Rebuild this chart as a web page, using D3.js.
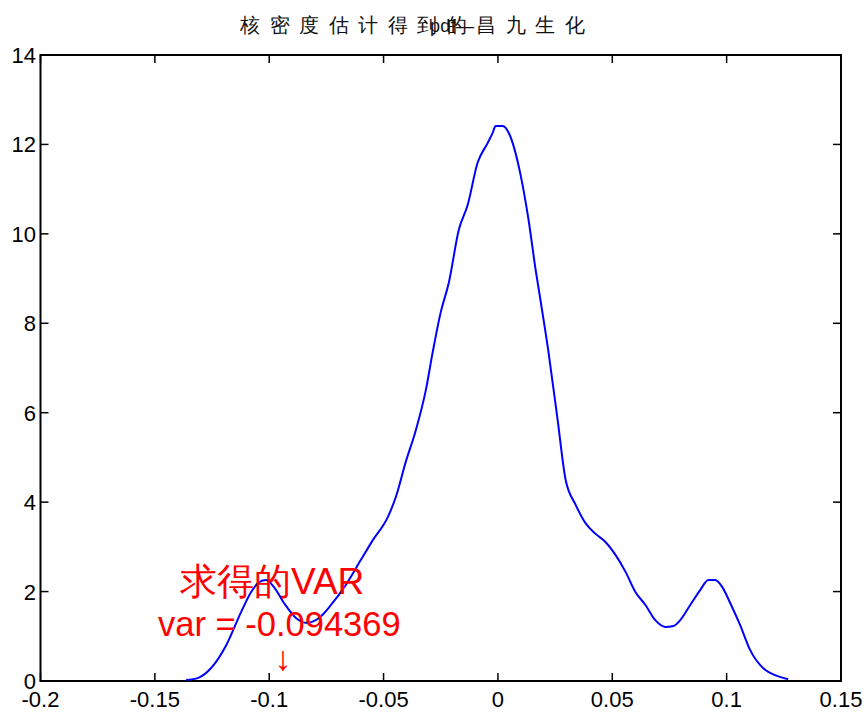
<!DOCTYPE html>
<html>
<head>
<meta charset="utf-8">
<script src="https://cdn.jsdelivr.net/npm/d3@7"></script>
<style>
  body { margin: 0; background: #fff; }
  text { font-family: "Liberation Sans", Arial, sans-serif; }
</style>
</head>
<body>
<svg id="chart" width="866" height="713"></svg>
<script>
// kernel density estimate
var xs = [-0.1363, -0.131, -0.1254, -0.1188, -0.1123, -0.1079, -0.1044, -0.1014, -0.0979, -0.0935,
          -0.0883, -0.0839, -0.0782, -0.073, -0.0665, -0.0599, -0.0547, -0.0481, -0.0446, -0.0403,
          -0.0359, -0.0315, -0.0285, -0.025, -0.0215, -0.0171, -0.0132, -0.0089, -0.0045, -0.0023,
          -0.001, 0.0021, 0.0047, 0.0099, 0.0134, 0.0165, 0.0186, 0.0221, 0.0261, 0.0296,
          0.034, 0.0383, 0.0427, 0.047, 0.0514, 0.0558, 0.0601, 0.0645, 0.0688, 0.0732,
          0.0767, 0.0797, 0.0841, 0.0885, 0.092, 0.095, 0.0981, 0.1016, 0.1059, 0.1103,
          0.1168, 0.1212, 0.1269];
var ys = [0.02, 0.07, 0.29, 0.8, 1.54, 1.99, 2.21, 2.26, 2.1, 1.74,
          1.41, 1.3, 1.41, 1.7, 2.15, 2.71, 3.15, 3.67, 4.12, 4.9,
          5.61, 6.51, 7.36, 8.25, 8.9, 10.09, 10.65, 11.59, 12.03, 12.26,
          12.41, 12.41, 12.26, 11.32, 10.31, 9.19, 8.52, 7.36, 5.84, 4.5,
          3.94, 3.53, 3.29, 3.11, 2.82, 2.44, 1.99, 1.7, 1.36, 1.21,
          1.23, 1.36, 1.7, 2.04, 2.26, 2.26, 2.1, 1.74, 1.25, 0.69,
          0.25, 0.13, 0.04];
var xTicks = [-0.2, -0.15, -0.1, -0.05, 0, 0.05, 0.1, 0.15];
var yTicks = [0, 2, 4, 6, 8, 10, 12, 14];
var titleChars = ["核", "密", "度", "估", "计", "得", "到", "的", "昌", "九", "生", "化"];
var varValue = -0.094369;

var svg = d3.select("#chart");
var pLeft = 40.5, pRight = 841, pTop = 55, pBottom = 681;

var x = d3.scaleLinear().domain([-0.2, 0.15]).range([pLeft, pRight]);
var y = d3.scaleLinear().domain([0, 14]).range([pBottom, pTop]);

// tick marks, inward on all four sides
var tl = 8;
xTicks.forEach(function(t) {
  svg.append("line").attr("x1", x(t)).attr("x2", x(t)).attr("y1", pBottom).attr("y2", pBottom - tl)
    .attr("stroke", "#000").attr("stroke-width", 1.5);
  svg.append("line").attr("x1", x(t)).attr("x2", x(t)).attr("y1", pTop).attr("y2", pTop + tl)
    .attr("stroke", "#000").attr("stroke-width", 1.5);
  svg.append("text").attr("x", x(t)).attr("y", 707).attr("text-anchor", "middle")
    .attr("font-size", 22).text(t === 0 ? "0" : String(t));
});
yTicks.forEach(function(t) {
  svg.append("line").attr("x1", pLeft).attr("x2", pLeft + tl).attr("y1", y(t)).attr("y2", y(t))
    .attr("stroke", "#000").attr("stroke-width", 1.5);
  svg.append("line").attr("x1", pRight).attr("x2", pRight - tl).attr("y1", y(t)).attr("y2", y(t))
    .attr("stroke", "#000").attr("stroke-width", 1.5);
  svg.append("text").attr("x", 36).attr("y", y(t) + 8).attr("text-anchor", "end")
    .attr("font-size", 22).text(t);
});

// box
svg.append("rect").attr("x", pLeft).attr("y", pTop).attr("width", pRight - pLeft).attr("height", pBottom - pTop)
  .attr("fill", "none").attr("stroke", "#000").attr("stroke-width", 2);

// density curve
var pts = xs.map(function(v, i) { return [v, ys[i]]; });
var line = d3.line().x(function(d) { return x(d[0]); }).y(function(d) { return y(d[1]); })
  .curve(d3.curveMonotoneX);
svg.append("path").datum(pts).attr("d", line)
  .attr("fill", "none").attr("stroke", "#0000ff").attr("stroke-width", 2);

// title
titleChars.forEach(function(c, i) {
  svg.append("text").attr("x", 240 + i * 29.5).attr("y", 32)
    .attr("font-family", "Noto Sans CJK SC").attr("font-size", 20).attr("fill", "#111").text(c);
});
svg.append("text").attr("x", 430).attr("y", 32).attr("font-size", 18).attr("fill", "#111")
  .attr("textLength", 44).text("pdf—");

// annotation
svg.append("text").attr("x", 180).attr("y", 594).attr("fill", "#ff0000")
  .attr("font-family", "Noto Sans CJK SC, Liberation Sans").attr("font-size", 37).text("求得的VAR");
svg.append("text").attr("x", 158).attr("y", 636).attr("fill", "#ff0000")
  .attr("font-size", 34.5).text("var = " + varValue);
svg.append("text").attr("x", x(varValue) + 1).attr("y", 670).attr("text-anchor", "middle")
  .attr("fill", "#ff0000").attr("font-family", "Liberation Sans").attr("font-size", 34).text("↓");
</script>
</body>
</html>
